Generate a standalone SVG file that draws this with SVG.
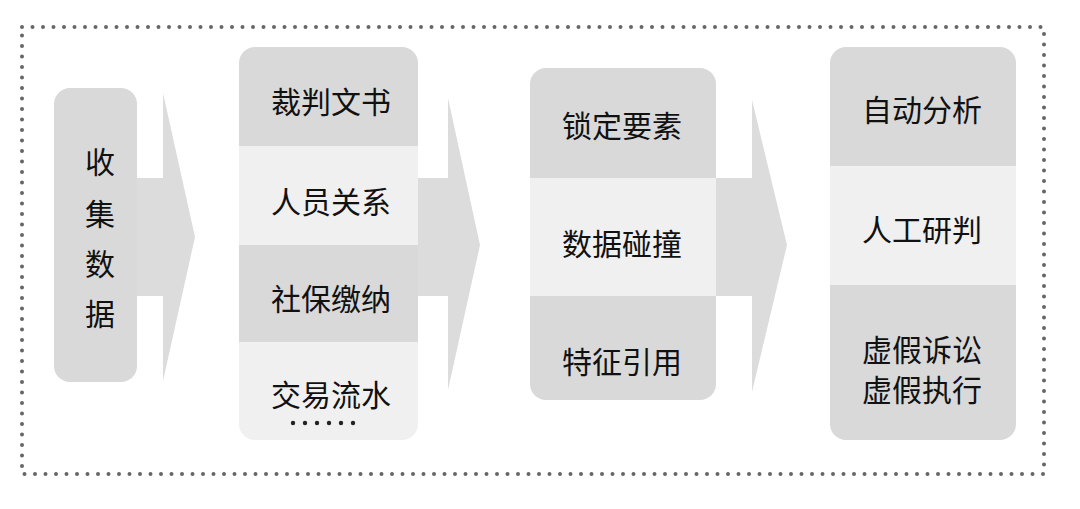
<svg xmlns="http://www.w3.org/2000/svg" width="1080" height="509" viewBox="0 0 1080 509">
<style>
.t{font-family:"Noto Sans CJK SC",sans-serif;font-size:30px;fill:#111;text-anchor:middle;dominant-baseline:central}
.d{fill:#d9d9d9}.l{fill:#f0f0f0}.a{fill:#dcdcdc}
.s{stroke:#b3b3b3;stroke-width:5}.h{fill:#b3b3b3}
</style>
<defs>
<clipPath id="c2"><rect x="239" y="47" width="179" height="393" rx="16"/></clipPath>
<clipPath id="c3"><rect x="530" y="68" width="186" height="332" rx="16"/></clipPath>
<clipPath id="c4"><rect x="830" y="47" width="186" height="393" rx="16"/></clipPath>
</defs>
<rect width="1080" height="509" fill="#fff"/>
<rect x="22" y="27" width="1022" height="447" fill="none" stroke="#666" stroke-width="4" stroke-dasharray="0 10.5" stroke-linecap="round"/>
<g id="connectors">
<path class="a" d="M137 178H163V93L195 237L163 381V296H137Z"/>
<path class="a" d="M418 178H448V98L480 245L448 390V296H418Z"/>
<path class="a" d="M716 178H752V100L787 245L752 392V296H716Z"/>
<g><line class="s" x1="621" y1="162" x2="621" y2="183"/><path class="h" d="M602 181H640L621 196Z"/></g>
<g><line class="s" x1="619" y1="285" x2="619" y2="306"/><path class="h" d="M600 304H638L619 319Z"/></g>
<g><line class="s" x1="922" y1="155" x2="922" y2="176"/><path class="h" d="M903 174H941L922 189Z"/></g>
<g><line class="s" x1="922" y1="272" x2="922" y2="293"/><path class="h" d="M903 291H941L922 306Z"/></g>
</g>
<g id="n1"><rect class="d" x="54" y="88" width="83" height="294" rx="16"/>
<text class="t" x="100" y="160">收</text><text class="t" x="100" y="212">集</text><text class="t" x="100" y="262">数</text><text class="t" x="100" y="312">据</text></g>
<g id="n2"><g clip-path="url(#c2)">
<rect class="d" x="239" y="47" width="179" height="99"/><rect class="l" x="239" y="146" width="179" height="99"/>
<rect class="d" x="239" y="245" width="179" height="97"/><rect class="l" x="239" y="342" width="179" height="98"/></g>
<text class="t" x="331" y="100">裁判文书</text><text class="t" x="331" y="200">人员关系</text>
<text class="t" x="331" y="297">社保缴纳</text><text class="t" x="331" y="393">交易流水</text>
<g fill="#222"><circle cx="293" cy="423" r="2.2"/><circle cx="305" cy="423" r="2.2"/><circle cx="317" cy="423" r="2.2"/><circle cx="329" cy="423" r="2.2"/><circle cx="341" cy="423" r="2.2"/><circle cx="353" cy="423" r="2.2"/></g></g>
<g id="n3"><g clip-path="url(#c3)">
<rect class="d" x="530" y="68" width="186" height="110"/><rect class="l" x="530" y="178" width="186" height="118"/><rect class="d" x="530" y="296" width="186" height="104"/></g>
<text class="t" x="622" y="124">锁定要素</text><text class="t" x="622" y="242">数据碰撞</text><text class="t" x="622" y="360">特征引用</text></g>
<g id="n4"><g clip-path="url(#c4)">
<rect class="d" x="830" y="47" width="186" height="119"/><rect class="l" x="830" y="166" width="186" height="119"/><rect class="d" x="830" y="285" width="186" height="155"/></g>
<text class="t" x="922" y="108">自动分析</text><text class="t" x="922" y="228">人工研判</text>
<text class="t" x="922" y="348">虚假诉讼</text><text class="t" x="922" y="388">虚假执行</text></g>
<g clip-path="url(#c3)"/>
</svg>
